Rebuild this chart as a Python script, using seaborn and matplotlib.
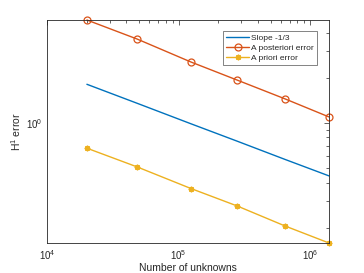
import numpy as np
import pandas as pd
import matplotlib
matplotlib.use("Agg")
import matplotlib.pyplot as plt
import matplotlib.ticker as mticker
import seaborn as sns

unknowns = [20100, 48300, 124000, 279000, 646000, 1390000]
slope_ref = [1.81, 1.353, 0.987, 0.755, 0.570, 0.443]
post_err = [4.86, 3.63, 2.55, 1.93, 1.445, 1.096]
prior_err = [0.678, 0.509, 0.365, 0.279, 0.205, 0.158]
labels = ["Slope -1/3", "A posteriori error", "A priori error"]

sns.set_style("white")
plt.rcParams['font.family'] = ['Liberation Sans', 'DejaVu Sans']
plt.rcParams['mathtext.fontset'] = 'custom'
plt.rcParams['mathtext.rm'] = 'Liberation Sans'

fig = plt.figure(figsize=(3.64, 2.73), dpi=100)
ax = fig.add_axes([47/364, 30/273, 282/364, 223/273])

df = pd.DataFrame({"x": unknowns * 3,
                   "y": slope_ref + post_err + prior_err,
                   "s": [labels[0]] * 6 + [labels[1]] * 6 + [labels[2]] * 6})

colors = ["#0072BD", "#D95319", "#EDB120"]
sns.lineplot(data=df[df.s == labels[0]], x="x", y="y", color=colors[0], lw=1.0, ax=ax, label=labels[0])
sns.lineplot(data=df[df.s == labels[1]], x="x", y="y", color=colors[1], lw=1.0, ax=ax, label=labels[1],
             marker="o", markersize=5, markerfacecolor="none", markeredgecolor=colors[1], markeredgewidth=0.9)
sns.lineplot(data=df[df.s == labels[2]], x="x", y="y", color=colors[2], lw=1.0, ax=ax, label=labels[2],
             marker=(8, 2, 0), markersize=4, markeredgecolor=colors[2], markeredgewidth=1.0)
for ln in ax.lines:
    ln.set_clip_on(False)

ax.set_xscale("log")
ax.set_yscale("log")
ax.set_xlim(1e4, 1.39e6)
ax.set_ylim(0.158, 4.86)

ax.xaxis.set_major_locator(mticker.LogLocator(base=10, numticks=10))
ax.xaxis.set_minor_locator(mticker.LogLocator(base=10, subs=np.arange(2, 10), numticks=10))
ax.yaxis.set_major_locator(mticker.LogLocator(base=10, numticks=10))
ax.yaxis.set_minor_locator(mticker.LogLocator(base=10, subs=np.arange(2, 10), numticks=10))
ax.xaxis.set_minor_formatter(mticker.NullFormatter())
ax.yaxis.set_minor_formatter(mticker.NullFormatter())
ax.xaxis.set_major_formatter(mticker.LogFormatterSciNotation())
ax.yaxis.set_major_formatter(mticker.LogFormatterSciNotation())

ax.tick_params(which="both", direction="in", top=True, right=True, colors="#262626",
               labelsize=7, width=0.5)
ax.tick_params(which="major", length=3.5)
ax.tick_params(which="minor", length=2)
for sp in ax.spines.values():
    sp.set_color("#262626")
    sp.set_linewidth(0.6)

ax.set_xlabel("Number of unknowns", fontsize=7.5, color="#262626", labelpad=1)
ax.set_ylabel("H$^1$ error", fontsize=7.5, color="#262626", labelpad=2)

leg = ax.legend(loc="upper right", bbox_to_anchor=(0.972, 0.969), fontsize=6, frameon=True,
                fancybox=False, edgecolor="#262626", handlelength=2.7, borderpad=0.35,
                labelspacing=0.25, handletextpad=0.3)
leg.get_frame().set_linewidth(0.5)

fig.savefig("out.png", dpi=100)
